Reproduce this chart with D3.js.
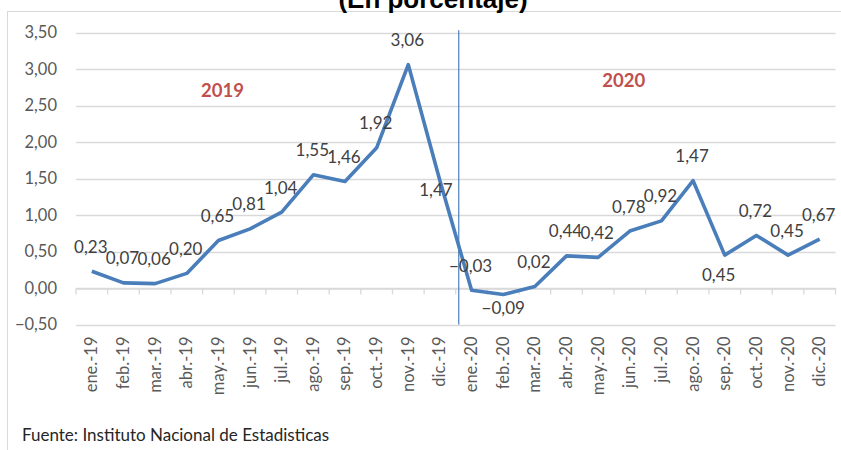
<!DOCTYPE html>
<html>
<head>
<meta charset="utf-8">
<script src="https://cdn.jsdelivr.net/npm/d3@7"></script>
<style>
	body { margin: 0; background: #fff; }
	svg { display: block; }
	text { font-family: Lato, "Open Sans", sans-serif; }
</style>
</head>
<body>
<svg width="841" height="450"></svg>
<script>
// months shown on the x axis
const months = ['ene.-19', 'feb.-19', 'mar.-19', 'abr.-19', 'may.-19', 'jun.-19',
	'jul.-19', 'ago.-19', 'sep.-19', 'oct.-19', 'nov.-19', 'dic.-19',
	'ene.-20', 'feb.-20', 'mar.-20', 'abr.-20', 'may.-20', 'jun.-20',
	'jul.-20', 'ago.-20', 'sep.-20', 'oct.-20', 'nov.-20', 'dic.-20'];

// monthly inflation, percent
const values = [0.23, 0.07, 0.06, 0.20, 0.65, 0.81, 1.04, 1.55, 1.46, 1.92, 3.06, 1.47,
	-0.03, -0.09, 0.02, 0.44, 0.42, 0.78, 0.92, 1.47, 0.45, 0.72, 0.45, 0.67];

const yTicks = [-0.5, 0, 0.5, 1, 1.5, 2, 2.5, 3, 3.5];
const years = ['2019', '2020'];
const title = '(En porcentaje)';
const source = 'Fuente: Instituto Nacional de Estadisticas';

// labels that are not placed above their point
const labelNudge = {
	'dic.-19': [-4, 34],
	'feb.-20': [0, 38],
	'sep.-20': [-6, 44]
};

const fmt = v => d3.format('.2f')(v).replace('.', ',');
const lineColor = '#4a7ebb',
	gridColor = '#d9d9d9';

const svg = d3.select('svg');

// outer chart frame
svg.append('rect')
	.attr('x', 7.5).attr('y', 11.5)
	.attr('width', 840).attr('height', 450)
	.attr('fill', 'none')
	.attr('stroke', gridColor);

// title, cut by the top of the picture as in the original
svg.append('text')
	.attr('x', 433).attr('y', 8)
	.attr('text-anchor', 'middle')
	.style('font-family', '"Liberation Sans", Arial, sans-serif')
	.style('font-weight', 'bold')
	.style('font-size', '26px')
	.attr('fill', '#000')
	.text(title);

const x = d3.scaleBand().domain(months).range([76, 835.5]);
const y = d3.scaleLinear().domain([-0.5, 3.5]).range([324.5, 32.5]);
const cx = m => x(m) + x.bandwidth() / 2;

// gridlines
svg.append('g')
	.selectAll('line')
	.data(yTicks)
	.join('line')
	.attr('x1', x.range()[0]).attr('x2', x.range()[1])
	.attr('y1', d => Math.round(y(d)) + 0.5).attr('y2', d => Math.round(y(d)) + 0.5)
	.attr('stroke', gridColor)
	.attr('stroke-width', 1.3);

// y tick labels
svg.append('g')
	.selectAll('text')
	.data(yTicks)
	.join('text')
	.attr('x', 57)
	.attr('y', d => y(d) + 5.5)
	.attr('text-anchor', 'end')
	.attr('fill', '#595959')
	.style('font-size', '16.5px')
	.text(fmt);

// x axis at zero, ticks between months
const xAxis = svg.append('g')
	.attr('transform', `translate(0,${Math.round(y(0)) + 0.5})`)
	.call(d3.axisBottom(x).tickSize(0).tickFormat(''));
xAxis.select('.domain').attr('stroke', gridColor).attr('stroke-width', 1.3);
xAxis.selectAll('.tick').remove();
xAxis.selectAll('line.sep')
	.data(months.map(m => x(m)).concat([x.range()[1]]))
	.join('line')
	.attr('class', 'sep')
	.attr('x1', d => d).attr('x2', d => d)
	.attr('y1', 0).attr('y2', 6)
	.attr('stroke', gridColor)
	.attr('stroke-width', 1.3);

// rotated month labels
svg.append('g')
	.selectAll('text')
	.data(months)
	.join('text')
	.attr('transform', d => `translate(${cx(d) + 5.5},${y.range()[0] + 12}) rotate(-90)`)
	.attr('text-anchor', 'end')
	.attr('fill', '#595959')
	.style('font-size', '16.5px')
	.text(d => d);

// divider between the two years
const divX = x('ene.-20') + 3;
svg.append('line')
	.attr('x1', divX).attr('x2', divX)
	.attr('y1', y(3.53)).attr('y2', y.range()[0])
	.attr('stroke', lineColor)
	.attr('stroke-width', 1.2);

// year annotations
svg.append('g')
	.selectAll('text')
	.data(years)
	.join('text')
	.attr('x', (d, i) => i === 0 ? cx('may.-19') + 4 : cx('jun.-20') - 6)
	.attr('y', (d, i) => i === 0 ? y(2.62) : y(2.76))
	.attr('text-anchor', 'middle')
	.attr('fill', '#c0504d')
	.style('font-weight', 'bold')
	.style('font-size', '18.5px')
	.text(d => d);

// the series line
const line = d3.line()
	.x((d, i) => cx(months[i]))
	.y(d => y(d));

svg.append('path')
	.datum(values)
	.attr('d', line)
	.attr('fill', 'none')
	.attr('stroke', lineColor)
	.attr('stroke-width', 3.6)
	.attr('stroke-linejoin', 'round');

// data labels
svg.append('g')
	.selectAll('text')
	.data(values)
	.join('text')
	.attr('x', (d, i) => cx(months[i]) + (labelNudge[months[i]] ? labelNudge[months[i]][0] : -1))
	.attr('y', (d, i) => y(d) - 18.5 + (labelNudge[months[i]] ? labelNudge[months[i]][1] : 0))
	.attr('text-anchor', 'middle')
	.attr('fill', '#404040')
	.style('font-size', '17px')
	.text(fmt);

// source note
svg.append('text')
	.attr('x', 22).attr('y', 441)
	.attr('fill', '#262626')
	.style('font-size', '17px')
	.text(source);
</script>
</body>
</html>
